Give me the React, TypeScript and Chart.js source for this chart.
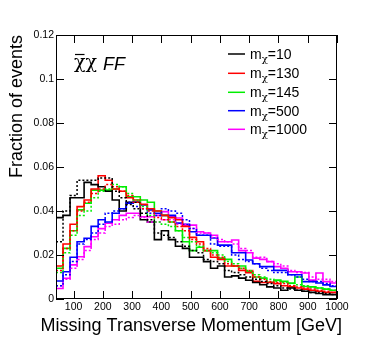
import React, { useEffect, useRef } from "react";
import { Chart, registerables } from "chart.js";

Chart.register(...registerables);

// Bin edges (GeV)
const binEdges = [
  40, 64, 88, 112, 136, 160, 184, 208, 232, 256, 280, 304, 328, 352, 376, 400,
  424, 448, 472, 496, 520, 544, 568, 592, 616, 640, 664, 688, 712, 736, 760,
  784, 808, 832, 856, 880, 904, 928, 952, 976, 1000,
];

// Solid histograms
const m10Solid = [
  0.037, 0.038, 0.046, 0.046, 0.053, 0.052, 0.051, 0.049, 0.045, 0.040,
  0.044, 0.044, 0.036, 0.035, 0.027, 0.031, 0.027, 0.024, 0.023, 0.019,
  0.019, 0.017, 0.014, 0.015, 0.010, 0.0105, 0.0095, 0.0085, 0.0075, 0.0065,
  0.0055, 0.005, 0.004, 0.005, 0.004, 0.0035, 0.003, 0.0025, 0.002, 0.002,
];
const m130Solid = [
  0.015, 0.025, 0.034, 0.042, 0.045, 0.050, 0.056, 0.054, 0.050, 0.049,
  0.046, 0.045, 0.043, 0.041, 0.040, 0.038, 0.037, 0.036, 0.033, 0.028,
  0.026, 0.022, 0.019, 0.018, 0.015, 0.015, 0.013, 0.012, 0.008, 0.0075,
  0.0075, 0.007, 0.006, 0.0055, 0.005, 0.0045, 0.004, 0.0035, 0.003, 0.003,
];
const m145Solid = [
  0.014, 0.023, 0.031, 0.0405, 0.0435, 0.0495, 0.0495, 0.0495, 0.050, 0.051,
  0.0465, 0.0465, 0.045, 0.044, 0.040, 0.038, 0.035, 0.031, 0.026, 0.022,
  0.0235, 0.022, 0.022, 0.0186, 0.018, 0.015, 0.015, 0.0124, 0.010, 0.0095,
  0.0076, 0.0086, 0.008, 0.0072, 0.010, 0.0057, 0.0055, 0.005, 0.0045, 0.004,
];
const m500Solid = [
  0.0082, 0.0124, 0.019, 0.026, 0.0276, 0.033, 0.036, 0.035, 0.039, 0.041,
  0.0436, 0.044, 0.0427, 0.0405, 0.039, 0.038, 0.038, 0.0345, 0.034, 0.0306,
  0.029, 0.029, 0.0277, 0.0245, 0.0245, 0.021, 0.021, 0.0177, 0.016, 0.0147,
  0.0147, 0.013, 0.013, 0.011, 0.011, 0.0079, 0.0079, 0.0073, 0.0064, 0.0057,
];
const m1000Solid = [
  0.0048, 0.0094, 0.0155, 0.0192, 0.0238, 0.0283, 0.032, 0.0344, 0.036, 0.038,
  0.039, 0.039, 0.0374, 0.0374, 0.038, 0.0397, 0.0374, 0.0368, 0.0336, 0.0336,
  0.0306, 0.030, 0.029, 0.026, 0.026, 0.0268, 0.022, 0.021, 0.0186, 0.018,
  0.017, 0.0147, 0.014, 0.0124, 0.0124, 0.0118, 0.0086, 0.0118, 0.0079, 0.0073,
];

// Dotted histograms
const m10Dotted = [
  0.026, 0.040, 0.047, 0.054, 0.054, 0.054, 0.055, 0.055, 0.049, 0.046,
  0.043, 0.041, 0.039, 0.036, 0.030, 0.029, 0.028, 0.026, 0.024, 0.022,
  0.021, 0.018, 0.017, 0.016, 0.013, 0.012, 0.011, 0.010, 0.009, 0.008,
  0.007, 0.006, 0.005, 0.0045, 0.004, 0.0035, 0.003, 0.003, 0.0025, 0.002,
];
const m130Dotted = [
  0.013, 0.023, 0.031, 0.040, 0.044, 0.048, 0.050, 0.052, 0.051, 0.049,
  0.047, 0.044, 0.041, 0.040, 0.037, 0.036, 0.035, 0.033, 0.031, 0.027,
  0.025, 0.023, 0.020, 0.019, 0.016, 0.015, 0.014, 0.013, 0.010, 0.009,
  0.008, 0.0075, 0.007, 0.006, 0.0055, 0.005, 0.0045, 0.004, 0.0035, 0.003,
];
const m145Dotted = [
  0.012, 0.021, 0.029, 0.038, 0.040, 0.046, 0.049, 0.050, 0.052, 0.051,
  0.048, 0.045, 0.042, 0.038, 0.035, 0.034, 0.033, 0.031, 0.028, 0.026,
  0.024, 0.022, 0.021, 0.020, 0.017, 0.016, 0.014, 0.013, 0.011, 0.010,
  0.009, 0.008, 0.0075, 0.007, 0.0065, 0.006, 0.0055, 0.005, 0.0045, 0.004,
];
const m500Dotted = [
  0.006, 0.011, 0.017, 0.025, 0.027, 0.030, 0.034, 0.039, 0.040, 0.041,
  0.044, 0.042, 0.041, 0.039, 0.038, 0.041, 0.040, 0.039, 0.036, 0.032,
  0.029, 0.029, 0.025, 0.024, 0.024, 0.020, 0.018, 0.017, 0.016, 0.014,
  0.013, 0.012, 0.012, 0.011, 0.010, 0.009, 0.008, 0.008, 0.007, 0.006,
];
const m1000Dotted = [
  0.006, 0.009, 0.014, 0.018, 0.022, 0.027, 0.030, 0.033, 0.034, 0.036,
  0.037, 0.038, 0.037, 0.035, 0.035, 0.036, 0.036, 0.034, 0.034, 0.032,
  0.030, 0.030, 0.028, 0.027, 0.026, 0.025, 0.023, 0.022, 0.019, 0.019,
  0.017, 0.016, 0.015, 0.013, 0.012, 0.012, 0.010, 0.009, 0.009, 0.008,
];

const massLabels = ["10", "130", "145", "500", "1000"];
const seriesColors = ["#000000", "#ff0000", "#00ee00", "#0000ff", "#ff00ff"];
const solidSeries = [m10Solid, m130Solid, m145Solid, m500Solid, m1000Solid];
const dottedSeries = [m10Dotted, m130Dotted, m145Dotted, m500Dotted, m1000Dotted];

const xTicks = [100, 200, 300, 400, 500, 600, 700, 800, 900, 1000];
const yTicks = [0, 0.02, 0.04, 0.06, 0.08, 0.1, 0.12];
const yTickLabels = ["0", "0.02", "0.04", "0.06", "0.08", "0.1", "0.12"];
const xTitle = "Missing Transverse Momentum [GeV]";
const yTitle = "Fraction of events";

const SANS = '"Liberation Sans", Arial, Helvetica, sans-serif';
const GREEK = '"DejaVu Serif", "Liberation Serif", serif';

function toPoints(vals: number[]) {
  return binEdges.map((e, i) => ({ x: e, y: vals[Math.min(i, vals.length - 1)] }));
}

const overlay = {
  id: "overlay",
  afterDraw(chart: any) {
    const { ctx, chartArea: a, scales } = chart;
    const xs = scales.x;
    const ys = scales.y;
    ctx.save();
    ctx.strokeStyle = "#000";
    ctx.lineWidth = 1;
    // frame
    ctx.strokeRect(a.left + 0.5, a.top + 0.5, a.right - a.left - 1, a.bottom - a.top - 1);
    // ticks (inward)
    ctx.beginPath();
    xTicks.forEach((v) => {
      const px = Math.round(xs.getPixelForValue(v)) + 0.5;
      ctx.moveTo(px, a.bottom);
      ctx.lineTo(px, a.bottom - 8);
      ctx.moveTo(px, a.top);
      ctx.lineTo(px, a.top + 8);
    });
    yTicks.forEach((v) => {
      const py = Math.round(ys.getPixelForValue(v)) + 0.5;
      ctx.moveTo(a.left, py);
      ctx.lineTo(a.left + 8, py);
      ctx.moveTo(a.right, py);
      ctx.lineTo(a.right - 8, py);
    });
    ctx.stroke();

    // tick labels
    ctx.fillStyle = "#000";
    ctx.font = `10.5px ${SANS}`;
    ctx.textAlign = "center";
    ctx.textBaseline = "alphabetic";
    xTicks.forEach((v) => {
      ctx.fillText(String(v), xs.getPixelForValue(v), 310);
    });
    ctx.textAlign = "right";
    ctx.textBaseline = "middle";
    yTicks.forEach((v, i) => {
      ctx.fillText(yTickLabels[i], a.left - 2, ys.getPixelForValue(v));
    });

    // axis titles
    ctx.font = `18px ${SANS}`;
    ctx.textAlign = "right";
    ctx.textBaseline = "alphabetic";
    ctx.fillText(xTitle, 342, 331);
    ctx.save();
    ctx.translate(22, 35);
    ctx.rotate(-Math.PI / 2);
    ctx.textAlign = "right";
    ctx.fillText(yTitle, 0, 0);
    ctx.restore();

    // process label
    ctx.textAlign = "left";
    ctx.font = `19px ${GREEK}`;
    ctx.fillText("χχ", 74, 68);
    const chiW = ctx.measureText("χ").width;
    ctx.beginPath();
    ctx.lineWidth = 1.2;
    ctx.moveTo(75, 54.5);
    ctx.lineTo(73 + chiW, 54.5);
    ctx.stroke();
    ctx.font = `italic 18px ${SANS}`;
    ctx.fillText("FF", 103, 70);

    // legend
    const rows = [54, 73.3, 92.3, 110.7, 129.3];
    massLabels.forEach((lab, i) => {
      const y = rows[i];
      ctx.strokeStyle = seriesColors[i];
      ctx.lineWidth = 1.5;
      ctx.beginPath();
      ctx.moveTo(228, y);
      ctx.lineTo(245, y);
      ctx.stroke();
      ctx.fillStyle = "#000";
      ctx.textBaseline = "alphabetic";
      ctx.font = `14px ${SANS}`;
      let x = 250;
      const base = y + 5;
      ctx.fillText("m", x, base);
      x += ctx.measureText("m").width;
      ctx.font = `10px ${GREEK}`;
      ctx.fillText("χ", x, base + 3);
      x += ctx.measureText("χ").width;
      ctx.font = `14px ${SANS}`;
      ctx.fillText("=" + lab, x, base);
    });
    ctx.restore();
  },
};

export default function App() {
  const ref = useRef<HTMLCanvasElement | null>(null);
  useEffect(() => {
    if (!ref.current) return;
    const datasets: any[] = [];
    dottedSeries.forEach((vals, i) => {
      datasets.push({
        data: toPoints(vals),
        borderColor: seriesColors[i],
        borderWidth: 1.5,
        borderDash: [2, 2],
        stepped: "before",
        pointRadius: 0,
        fill: false,
      });
    });
    solidSeries.forEach((vals, i) => {
      datasets.push({
        data: toPoints(vals),
        borderColor: seriesColors[i],
        borderWidth: 1.6,
        stepped: "before",
        pointRadius: 0,
        fill: false,
      });
    });
    const chart = new Chart(ref.current, {
      type: "line",
      data: { datasets },
      options: {
        animation: false,
        responsive: false,
        devicePixelRatio: 1,
        layout: { padding: { left: 56, right: 37, top: 35, bottom: 52 } },
        plugins: { legend: { display: false }, tooltip: { enabled: false } },
        scales: {
          x: { type: "linear", min: 40, max: 1000, display: false },
          y: { type: "linear", min: 0, max: 0.12, display: false },
        },
      },
      plugins: [overlay],
    });
    return () => chart.destroy();
  }, []);
  return (
    <div style={{ position: "absolute", left: 0, top: 0, width: 374, height: 351, background: "#fff" }}>
      <canvas ref={ref} width={374} height={351} />
    </div>
  );
}
